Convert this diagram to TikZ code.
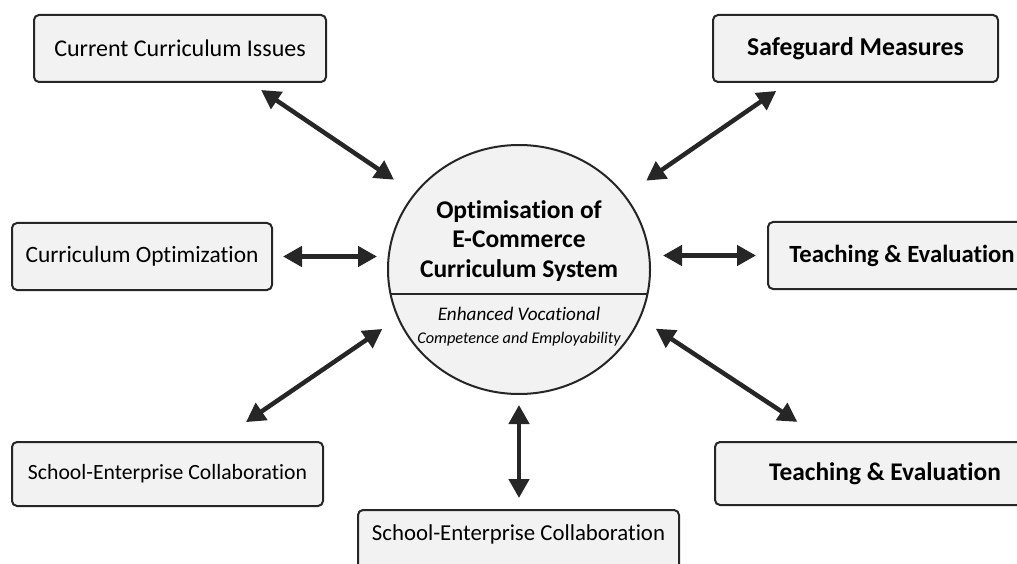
\documentclass[tikz,border=0pt]{standalone}
\usepackage{fontspec}
\setmainfont{Carlito}[Ligatures=NoCommon]
\usetikzlibrary{arrows.meta,shapes.geometric}
\definecolor{ink}{HTML}{262626}
\definecolor{boxgray}{HTML}{F2F2F2}
\begin{document}
\begin{tikzpicture}[x=1pt,y=-1pt,>={Triangle[length=19pt,width=20pt]},
  box/.style={draw=ink,fill=boxgray,line width=2pt,rounded corners=5pt,inner sep=0pt,minimum height=67,font=\fontsize{#1}{28}\selectfont},
  box/.default=24,
  boldbox/.style={box,font=\fontsize{#1}{28}\selectfont\bfseries},
  boldbox/.default=25.5,
  hubring/.style={draw=ink,fill=boxgray,line width=2pt,ellipse,inner sep=0pt,minimum width=262,minimum height=249},
  link/.style={<->,draw=ink,line width=4.5pt}]
\useasboundingbox (0,0) rectangle (1017,564);
\node[box,minimum width=292] (issues) at (180,48.5) {Current Curriculum Issues};
\node[box=23.4,minimum width=260] (optim) at (142,256.5) {Curriculum Optimization};
\node[boldbox=25.7,minimum width=285] (safe) at (855.5,48.5) {Safeguard Measures};
\node[boldbox=24.7,minimum width=268] (teachR) at (902,255.5) {Teaching \& Evaluation};
\node[box=21.7,minimum width=311,minimum height=64] (schoolL) at (167.5,474) {School-Enterprise Collaboration};
\node[boldbox=25.4,minimum width=340,minimum height=63] (teachB) at (885,473.5) {Teaching \& Evaluation};
\node[box=22.8,minimum width=321,text depth=22pt] (schoolB) at (518.5,543.5) {School-Enterprise Collaboration};
\node[hubring,path picture={\draw[ink,line width=1.5pt] ([yshift=-24.5]path picture bounding box.west) -- ([yshift=-24.5]path picture bounding box.east);}] (hub) at (519,269.5) {};
\node[align=center,inner sep=0pt,font=\fontsize{25.5}{29.5}\selectfont\bfseries] (title) at (519,241) {Optimisation of\\E-Commerce\\Curriculum System};
\node[align=center,inner sep=0pt,font=\itshape\fontsize{16.3}{23}\selectfont] (sub) at (519,327) {{\fontsize{19.2}{23}\selectfont Enhanced Vocational}\\Competence and Employability};
\draw[link,shorten <=12.5,shorten >=24.3] (issues.334) -- (hub.144);
\draw[link,shorten <=14,shorten >=25.4] (safe.207) -- (hub.35);
\draw[link,shorten <=10,shorten >=10] (optim.east) -- (optim.east -| hub.west);
\draw[link,shorten <=12,shorten >=11] (teachR.west -| hub.east) -- (teachR.west);
\draw[link,shorten <=33.5,shorten >=18.4] (schoolL.33) -- (hub.202);
\draw[link,shorten <=18.3,shorten >=34.7] (hub.338) -- (teachB.151);
\draw[link,shorten <=10,shorten >=11] (hub.south) -- (hub.south |- schoolB.north);
\end{tikzpicture}
\end{document}
